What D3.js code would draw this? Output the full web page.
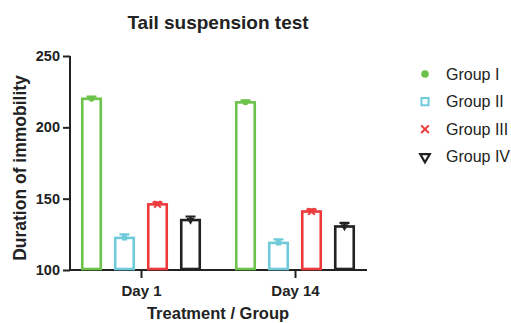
<!DOCTYPE html>
<html><head><meta charset="utf-8">
<script src="https://cdn.jsdelivr.net/npm/d3@7"></script>
<style>body{margin:0;background:#fff}svg{display:block}text{font-family:"Liberation Sans",Arial,sans-serif;fill:#222}</style>
</head><body><svg id="c" width="511" height="323"></svg>
<script>
const days = ["Day 1", "Day 14"];
const groups = ["Group I", "Group II", "Group III", "Group IV"];
const means = {"Day 1": [220, 122.5, 146, 135], "Day 14": [217.5, 119, 141, 130.5]};
const sems = {"Day 1": [1.5, 2.5, 1.5, 2.5], "Day 14": [1.5, 2.5, 1.5, 2.5]};
const yTicks = [100, 150, 200, 250];
const colors = ["#6cc24a", "#6fcbd9", "#ec3a3c", "#222222"];
const symbols = [d3.symbolCircle, d3.symbolSquare, d3.symbolX, d3.symbolTriangle];

const svg = d3.select("#c");
const y = d3.scaleLinear().domain([100, 250]).range([270, 56]);
const x0 = d3.scaleBand().domain(days).range([64, 372]);
const x1 = d3.scaleBand().domain(groups).range([-66, 66]);
const barW = 18.5;

// title
svg.append("text").attr("x", 218).attr("y", 29).attr("text-anchor", "middle")
  .style("font-size", "19px").style("font-weight", "bold").text("Tail suspension test");

// y axis
const ya = svg.append("g").attr("transform", "translate(70,0)")
  .call(d3.axisLeft(y).tickValues(yTicks).tickSize(7).tickPadding(3));
ya.select(".domain").attr("stroke", "#222").attr("stroke-width", 2).attr("d", `M0,${y(250)}V${y(100)}`);
ya.selectAll(".tick line").attr("stroke", "#222").attr("stroke-width", 2);
ya.selectAll(".tick text").style("font-size", "14.5px").style("font-weight", "bold").attr("fill", "#222");

svg.append("text").attr("transform", "translate(26,168) rotate(-90)").attr("text-anchor", "middle")
  .style("font-size", "17.5px").style("font-weight", "bold").text("Duration of immobility");

// x axis
const xa = svg.append("g").attr("transform", "translate(0,270)")
  .call(d3.axisBottom(d3.scalePoint().domain(days).range([x0("Day 1") + x0.bandwidth()/2, x0("Day 14") + x0.bandwidth()/2])).tickSize(8));
xa.select(".domain").attr("stroke", "#222").attr("stroke-width", 2).attr("d", "M70,0H367");
xa.selectAll(".tick line").attr("stroke", "#222").attr("stroke-width", 2);
xa.selectAll(".tick text").attr("y", 26).attr("dy", null).style("font-size", "15px").style("font-weight", "bold").attr("fill", "#222");

svg.append("text").attr("x", 218).attr("y", 318.5).attr("text-anchor", "middle")
  .style("font-size", "16.5px").style("font-weight", "bold").text("Treatment / Group");

// bars
days.forEach(day => {
  groups.forEach((g, i) => {
    const cx = x0(day) + x0.bandwidth()/2 + x1(g) + x1.bandwidth()/2;
    const m = means[day][i], s = sems[day][i];
    svg.append("rect").attr("x", cx - barW/2).attr("y", y(m)).attr("width", barW).attr("height", y(100) - y(m) - 1)
      .attr("fill", "none").attr("stroke", colors[i]).attr("stroke-width", 2.6);
    svg.append("path").attr("d", `M${cx},${y(m)}V${y(m+s)}M${cx-5},${y(m+s)}H${cx+5}`)
      .attr("stroke", colors[i]).attr("stroke-width", 2.2).attr("fill", "none");
    const sym = d3.symbol().type(symbols[i]).size(i === 2 ? 30 : 28);
    const mk = svg.append("path").attr("d", sym())
      .attr("transform", `translate(${cx},${y(m)})` + (i === 3 ? " rotate(180)" : ""));
    if (i === 2) mk.attr("fill", "none").attr("stroke", colors[i]).attr("stroke-width", 2);
    else mk.attr("fill", colors[i]);
  });
});

// legend
const leg = svg.append("g");
groups.forEach((g, i) => {
  const ly = 74 + i * 27.6;
  const p = leg.append("path").attr("transform", `translate(425,${ly})` + (i === 3 ? " rotate(180)" : ""));
  if (i === 0) p.attr("d", d3.symbol().type(d3.symbolCircle).size(45)()).attr("fill", colors[0]);
  if (i === 1) p.attr("d", d3.symbol().type(d3.symbolSquare).size(50)()).attr("fill", "none").attr("stroke", colors[1]).attr("stroke-width", 2);
  if (i === 2) p.attr("d", d3.symbol().type(d3.symbolX).size(40)()).attr("fill", "none").attr("stroke", colors[2]).attr("stroke-width", 2);
  if (i === 3) p.attr("d", d3.symbol().type(d3.symbolTriangle).size(40)()).attr("fill", "none").attr("stroke", colors[3]).attr("stroke-width", 2.2);
  leg.append("text").attr("x", 446).attr("y", ly + 5.5).style("font-size", "16px").text(g);
});
</script></body></html>
